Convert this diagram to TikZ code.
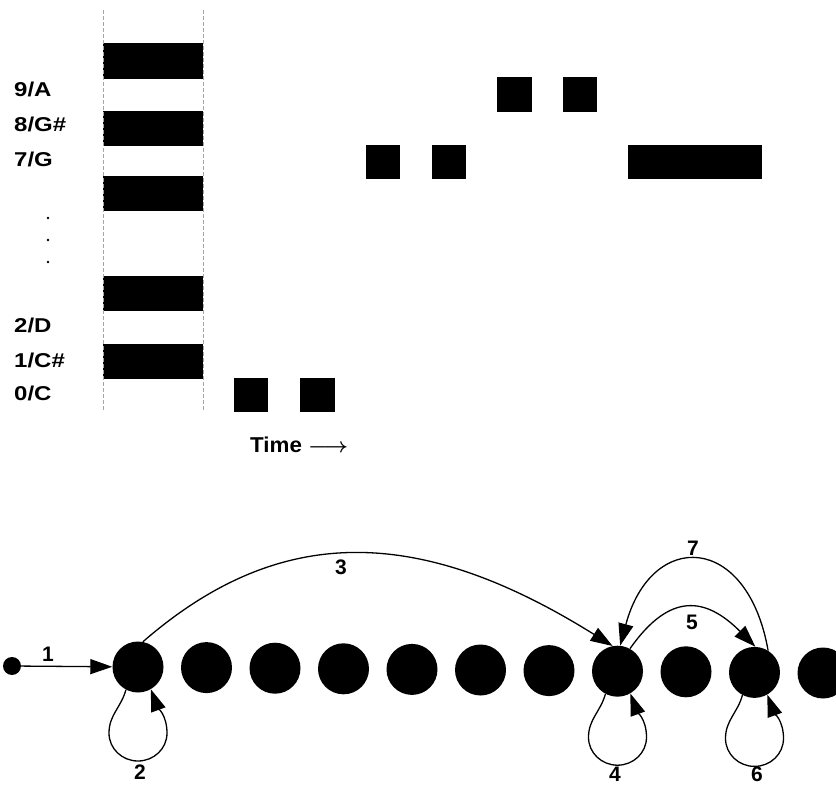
\documentclass[tikz,border=0pt]{standalone}
\usepackage{fontspec}
\setmainfont{Liberation Sans}
\usepackage{graphicx}
\usetikzlibrary{arrows.meta,calc}
\newcommand\myloop[1]{\draw[edge] (#1.-118) to[out=-105,in=90] ($(#1)+(-29,-66)$) to[out=-90,in=180] ($(#1)+(0,-94)$) to[out=0,in=-90] ($(#1)+(29,-66)$) to[out=90,in=-70] (#1.-60);}
\begin{document}
\begin{tikzpicture}[x=1pt,y=1pt,
  guide/.style={gray!70,line width=0.6pt,dash pattern=on 4pt off 2pt},
  lbl/.style={anchor=west,inner sep=0pt,font=\fontsize{20}{20}\selectfont\bfseries},
  state/.style={circle,fill=black,minimum size=51pt,inner sep=0pt},
  startdot/.style={circle,fill=black,minimum size=18pt,inner sep=0pt},
  edge/.style={line width=1.3pt,-{Triangle[length=22pt,width=15pt]}},
  elbl/.style={inner sep=0pt,font=\fontsize{21}{21}\selectfont\bfseries}]
\useasboundingbox (0,0) rectangle (836,-786);
% piano keys
\foreach \a/\b in {43/79,111/146,176/211,276/311,344/379}
  \fill (103,-\a) rectangle (203,-\b);
\draw[guide] (103,-10) -- (103,-410);
\draw[guide] (203,-10) -- (203,-410);
% notes
\foreach \xa/\xb/\ya/\yb in {234/268/378/412,300/335/378/412,366/400/145/179,432/466/145/179,497/532/77/112,563/597/77/112,628/762/145/179}
  \fill (\xa,-\ya) rectangle (\xb,-\yb);
% labels
\node[lbl] (l9) at (14,-89) {\scalebox{1.2}[1]{9/A}};
\node[lbl] (l8) at (14,-124) {\scalebox{1.2}[1]{8/G\#}};
\node[lbl] (l7) at (14,-159) {\scalebox{1.2}[1]{7/G}};
\node[lbl] (l2) at (14,-325) {\scalebox{1.2}[1]{2/D}};
\node[lbl] (l1) at (14,-360) {\scalebox{1.2}[1]{1/C\#}};
\node[lbl] (l0) at (14,-393) {\scalebox{1.2}[1]{0/C}};
\foreach \y in {218,240,262} \fill (48,-\y) circle (1.3pt);
\node[font=\fontsize{21.5}{21.5}\selectfont\bfseries\boldmath,inner sep=0pt,anchor=base west] (time) at (250,-453) {\scalebox{1.04}[1]{Time $\longrightarrow$}};
% graph
\foreach \i in {0,...,10}
  \node[state] (s\i) at ({138+68.5*\i},{-667-0.6*\i}) {};
\node[startdot] (init) at (12,-666) {};
\draw[edge] (init) -- (s0);
\node[elbl] (e1) at (48,-654) {1};
\myloop{s0}
\myloop{s7}
\myloop{s9}
\node[elbl] (e2) at (140,-772) {2};
\node[elbl] (e4) at (615,-774) {4};
\node[elbl] (e6) at (757,-774) {6};
\draw[edge] (s0.79) .. controls +(41:180) and +(148:230) .. (s7.101);
\node[elbl] (e3) at (341,-567) {3};
\draw[edge] (s7.61) .. controls +(55:70) and +(135:70) .. (s9.88);
\node[elbl] (e5) at (692,-622) {5};
\draw[edge] (s9.58) .. controls +(100:120) and +(75:120) .. (s7.84);
\node[elbl] (e7) at (693,-548) {7};
\end{tikzpicture}
\end{document}
